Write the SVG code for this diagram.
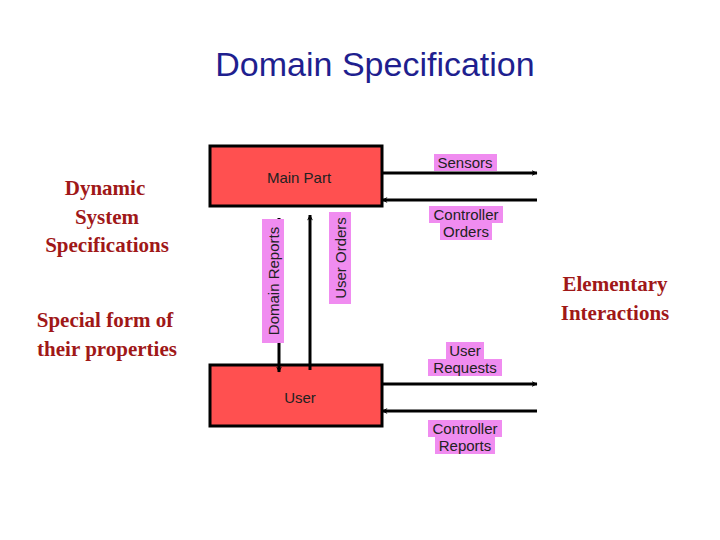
<svg xmlns="http://www.w3.org/2000/svg" width="720" height="540" viewBox="0 0 720 540">
<defs>
<style>
.box{fill:#ff5050;stroke:#000;stroke-width:3}
.ln{stroke:#000;stroke-width:3;fill:none;marker-end:url(#ah)}
.t{font-family:"Liberation Sans",Arial,sans-serif;font-size:15px;fill:#222;text-anchor:middle}
.lb{fill:#f08cf0}
.s{font-family:"Liberation Serif","Times New Roman",serif;font-size:21px;font-weight:bold;fill:#a01818;text-anchor:middle}
</style>
<marker id="ah" viewBox="0 0 12 12" refX="11" refY="6" markerWidth="6" markerHeight="6" markerUnits="userSpaceOnUse" orient="auto">
<path d="M0,0 L12,6 L0,12 L4,6 Z" fill="#000"/>
</marker>
</defs>
<rect width="720" height="540" fill="#fff"/>
<text x="375" y="76" font-family="Liberation Sans,Arial,sans-serif" font-size="34" fill="#1f1f8f" text-anchor="middle">Domain Specification</text>
<g id="left-text">
<text class="s" x="105" y="195">Dynamic</text>
<text class="s" x="107" y="224">System</text>
<text class="s" x="107" y="252">Specifications</text>
<text class="s" x="105" y="327">Special form of</text>
<text class="s" x="107" y="356">their properties</text>
</g>
<g id="right-text">
<text class="s" x="615" y="291">Elementary</text>
<text class="s" x="615" y="320">Interactions</text>
</g>
<g id="main-part"><rect class="box" x="210" y="146" width="172" height="60"/><text class="t" x="299" y="183">Main Part</text></g>
<g id="user"><rect class="box" x="210" y="365" width="172" height="61"/><text class="t" x="300" y="403">User</text></g>
<g id="connectors">
<line class="ln" x1="382" y1="173" x2="537" y2="173"/>
<line class="ln" x1="537" y1="200" x2="382" y2="200"/>
<line class="ln" x1="382" y1="384" x2="537" y2="384"/>
<line class="ln" x1="537" y1="411" x2="382" y2="411"/>
<line class="ln" x1="279" y1="218" x2="279" y2="372"/>
<line class="ln" x1="310" y1="370" x2="310" y2="215"/>
</g>
<g id="labels">
<rect class="lb" x="434" y="154" width="63" height="17"/><text class="t" x="465" y="168">Sensors</text>
<rect class="lb" x="429" y="206" width="74" height="17"/><rect class="lb" x="440" y="223" width="52" height="17"/>
<text class="t" x="466" y="220">Controller</text><text class="t" x="466" y="237">Orders</text>
<rect class="lb" x="446" y="342" width="38" height="17"/><rect class="lb" x="428" y="359" width="74" height="17"/>
<text class="t" x="465" y="356">User</text><text class="t" x="465" y="373">Requests</text>
<rect class="lb" x="428" y="420" width="74" height="17"/><rect class="lb" x="435" y="437" width="60" height="17"/>
<text class="t" x="465" y="434">Controller</text><text class="t" x="465" y="451">Reports</text>
<g transform="translate(279,281) rotate(-90)"><rect class="lb" x="-62" y="-17" width="124" height="22"/><text class="t" x="0" y="0">Domain Reports</text></g>
<g transform="translate(346,258) rotate(-90)"><rect class="lb" x="-46" y="-17" width="92" height="22"/><text class="t" x="0" y="0">User Orders</text></g>
</g>
</svg>
